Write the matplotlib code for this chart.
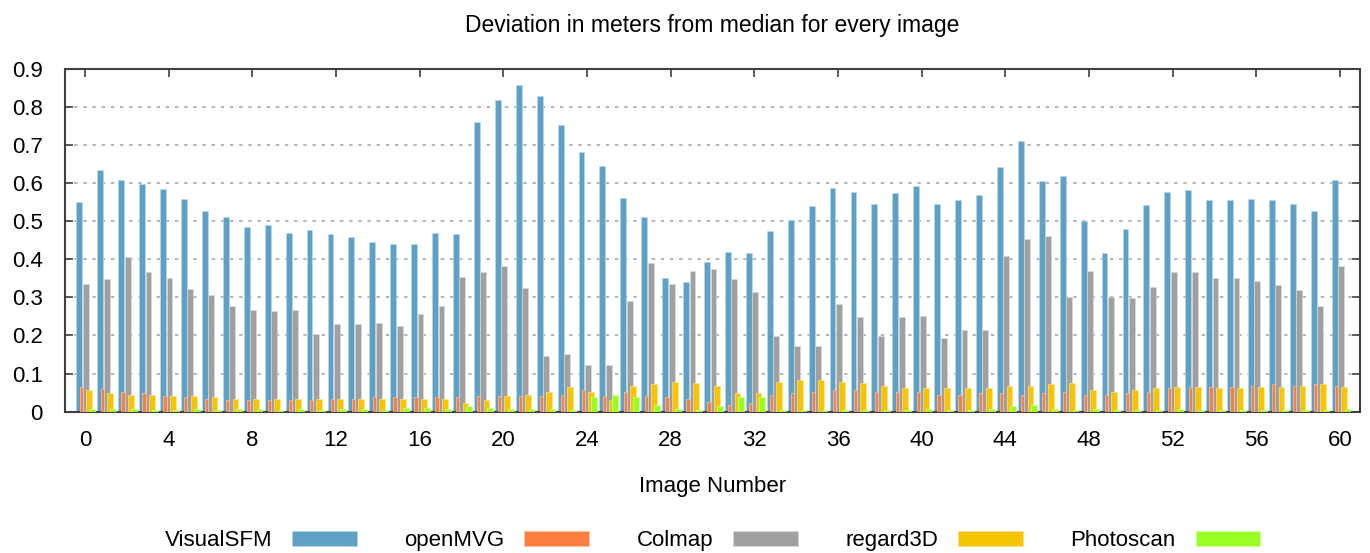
import numpy as np
import matplotlib
matplotlib.use("Agg")
import matplotlib.pyplot as plt

plt.rcParams["font.family"] = ["Liberation Sans", "DejaVu Sans"]

# deviation (m) from median per image
images = list(range(61))

visualsfm = [0.550, 0.634, 0.607, 0.596, 0.585, 0.557, 0.527, 0.512, 0.485, 0.489,
             0.470, 0.477, 0.466, 0.458, 0.446, 0.439, 0.439, 0.470, 0.466, 0.760,
             0.817, 0.856, 0.829, 0.752, 0.680, 0.645, 0.561, 0.512, 0.351, 0.340,
             0.393, 0.420, 0.416, 0.473, 0.504, 0.539, 0.588, 0.577, 0.546, 0.573,
             0.592, 0.546, 0.554, 0.569, 0.641, 0.710, 0.604, 0.619, 0.500, 0.416,
             0.480, 0.542, 0.577, 0.581, 0.554, 0.554, 0.557, 0.554, 0.546, 0.527,
             0.607]

openmvg = [0.064, 0.060, 0.052, 0.049, 0.041, 0.038, 0.033, 0.030, 0.030, 0.030,
           0.030, 0.030, 0.033, 0.033, 0.038, 0.038, 0.038, 0.038, 0.038, 0.041,
           0.041, 0.041, 0.041, 0.045, 0.057, 0.041, 0.052, 0.041, 0.038, 0.033,
           0.026, 0.018, 0.022, 0.045, 0.049, 0.052, 0.057, 0.057, 0.052, 0.052,
           0.052, 0.045, 0.045, 0.049, 0.049, 0.045, 0.049, 0.052, 0.045, 0.045,
           0.049, 0.052, 0.061, 0.064, 0.064, 0.064, 0.067, 0.072, 0.067, 0.072,
           0.067]

colmap = [0.336, 0.347, 0.405, 0.367, 0.351, 0.321, 0.305, 0.278, 0.267, 0.263,
          0.267, 0.203, 0.229, 0.229, 0.233, 0.225, 0.256, 0.278, 0.354, 0.367,
          0.382, 0.324, 0.145, 0.152, 0.122, 0.122, 0.290, 0.390, 0.336, 0.370,
          0.374, 0.347, 0.313, 0.198, 0.172, 0.172, 0.282, 0.248, 0.198, 0.248,
          0.251, 0.194, 0.214, 0.214, 0.408, 0.454, 0.462, 0.301, 0.370, 0.301,
          0.298, 0.328, 0.367, 0.367, 0.351, 0.351, 0.343, 0.332, 0.320, 0.278,
          0.382]

regard3d = [0.057, 0.049, 0.045, 0.045, 0.041, 0.041, 0.038, 0.033, 0.033, 0.033,
            0.033, 0.033, 0.033, 0.033, 0.033, 0.033, 0.033, 0.033, 0.022, 0.030,
            0.041, 0.045, 0.052, 0.064, 0.052, 0.030, 0.067, 0.072, 0.079, 0.076,
            0.067, 0.049, 0.049, 0.079, 0.083, 0.083, 0.079, 0.076, 0.067, 0.061,
            0.061, 0.061, 0.061, 0.061, 0.067, 0.067, 0.072, 0.076, 0.057, 0.052,
            0.057, 0.061, 0.064, 0.064, 0.061, 0.061, 0.064, 0.064, 0.067, 0.072,
            0.064]

photoscan = [0.007, 0.007, 0.007, 0.004, 0.004, 0.007, 0.004, 0.007, 0.007, 0.004,
             0.007, 0.004, 0.007, 0.007, 0.004, 0.010, 0.010, 0.007, 0.015, 0.010,
             0.007, 0.007, 0.007, 0.004, 0.038, 0.045, 0.038, 0.018, 0.007, 0.004,
             0.015, 0.038, 0.038, 0.004, 0.004, 0.004, 0.004, 0.004, 0.004, 0.004,
             0.007, 0.004, 0.004, 0.007, 0.015, 0.018, 0.007, 0.004, 0.007, 0.004,
             0.004, 0.004, 0.007, 0.004, 0.004, 0.004, 0.004, 0.004, 0.004, 0.004,
             0.007]

series = [
    ("VisualSFM", visualsfm, "#5fa1c4", "#b8d8ea"),
    ("openMVG", openmvg, "#ff7f40", "#ffc0a0"),
    ("Colmap", colmap, "#a0a0a0", "#d8d8d8"),
    ("regard3D", regard3d, "#f5c300", "#fbe38a"),
    ("Photoscan", photoscan, "#99ff22", "#d0ff99"),
]

fig = plt.figure(figsize=(13.7, 5.53), dpi=100)
ax = fig.add_axes([0.0474, 0.2555, 0.9453, 0.6205])

x = np.array(images)
width = 0.28
step = 0.153
for i, (name, vals, color, edge) in enumerate(series):
    ax.bar(x - 0.26 + step * i, vals, width=width, color=color,
           edgecolor=edge, linewidth=0.5, label=name, zorder=2 + i)

ax.set_xlim(-0.95, 60.95)
ax.set_ylim(0, 0.9)

ax.set_xticks(range(0, 61, 4))
ax.set_yticks(np.arange(0, 0.91, 0.1))
ax.set_yticklabels(["0"] + ["%.1f" % v for v in np.arange(0.1, 0.91, 0.1)])

ax.tick_params(axis="both", direction="in", labelsize=16, length=6,
               width=1.2, color="#404040", top=True, right=True)
ax.tick_params(axis="y", pad=16)
ax.tick_params(axis="x", pad=13)

for s in ax.spines.values():
    s.set_color("#404040")
    s.set_linewidth(1.5)

ax.yaxis.grid(True, color="#a8a8a8", linestyle=(0, (2, 3.5)), linewidth=1.2)
ax.set_axisbelow(True)

ax.set_title("Deviation in meters from median for every image", fontsize=16.5, pad=26)
ax.set_xlabel("Image Number", fontsize=16, labelpad=18)

fig.legend(loc="center", bbox_to_anchor=(0.52, 0.022), ncol=5, frameon=False,
           markerfirst=False, fontsize=16, handlelength=2.9, handleheight=0.68,
           handletextpad=0.9, columnspacing=2.15)

plt.savefig("out.png", dpi=100)
